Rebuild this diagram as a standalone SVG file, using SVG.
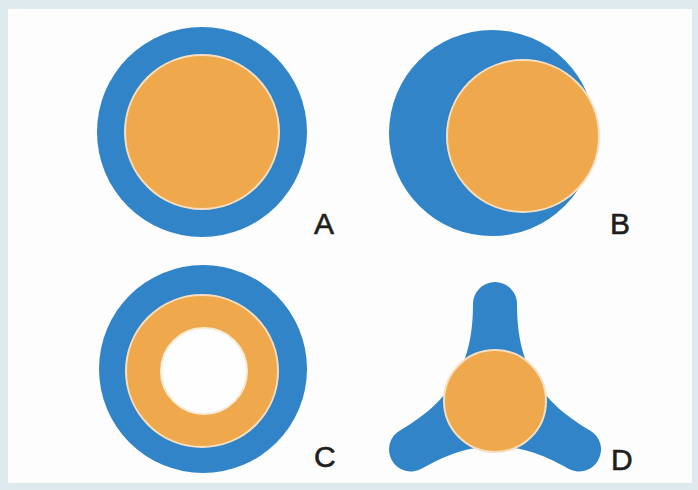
<svg xmlns="http://www.w3.org/2000/svg" width="698" height="490" viewBox="0 0 698 490">
<style>
.blue{fill:#3084c7}
.orange{fill:#efa94c;stroke:#f6dfc0;stroke-width:2}
.hole{fill:#fefefe;stroke:#f8ecd8;stroke-width:2}
.lbl{font-family:"Liberation Sans",Arial,sans-serif;font-size:30px;fill:#1e1e1e;stroke:#1e1e1e;stroke-width:0.6}
</style>
<defs>
<path id="arm" d="M -34,-32 C -29,-45 -22,-62 -22,-97 A 22 22 0 0 1 22,-97 C 22,-62 29,-45 34,-32 L 0,0 Z"/>
</defs>
<rect x="0" y="0" width="698" height="490" fill="#dfeaee"/>
<rect x="8" y="9" width="684" height="474" fill="#fdfdfd"/>
<g id="A">
<circle class="blue" cx="202" cy="132" r="105"/>
<circle class="orange" cx="202" cy="132" r="77"/>
<text class="lbl" x="314" y="234">A</text>
</g>
<g id="B">
<circle class="blue" cx="492" cy="133" r="103"/>
<circle class="orange" cx="523" cy="136" r="76"/>
<text class="lbl" x="610" y="234">B</text>
</g>
<g id="C">
<circle class="blue" cx="203" cy="369" r="104"/>
<circle class="orange" cx="202" cy="371" r="76"/>
<circle class="hole" cx="204" cy="371" r="43"/>
<text class="lbl" x="314" y="467">C</text>
</g>
<g id="D">
<g class="blue" transform="translate(495,401)">
<use href="#arm"/>
<use href="#arm" transform="rotate(120)"/>
<use href="#arm" transform="rotate(240)"/>
</g>
<circle class="orange" cx="495" cy="401" r="51"/>
<text class="lbl" x="611" y="470">D</text>
</g>
</svg>
